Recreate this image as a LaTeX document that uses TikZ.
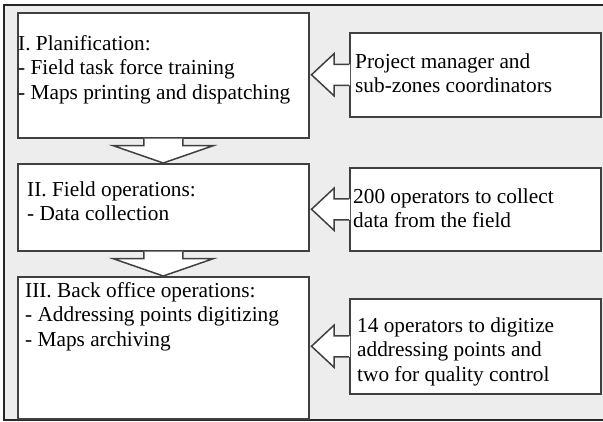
\documentclass[tikz,border=0pt]{standalone}
\usepackage{fontspec}
\setmainfont{Liberation Serif}
\usetikzlibrary{calc}
\definecolor{bggray}{RGB}{237,237,237}
\tikzstyle{stage}=[shape=rectangle,
                   draw=black!75,
                   fill=white,
                   line width=1.5pt,
                   anchor=north west,
                   inner sep=0pt,
                   minimum width=291pt]
\tikzstyle{who}=[shape=rectangle,
                 draw=black!75,
                 fill=white,
                 line width=1.5pt,
                 anchor=north west,
                 inner sep=0pt,
                 minimum width=251pt]
\tikzstyle{txt}=[anchor=base west,
                 inner sep=0pt,
                 align=left,
                 font=\fontsize{21.3}{24.5}\selectfont]
\tikzstyle{blk}=[draw=black!75,
                 fill=white,
                 line width=1.5pt,
                 line join=miter]

% block arrow from the bottom of one stage to the top of the next
\newcommand{\flowarrow}[2]{%
  \filldraw[blk] ($(#1.south)+(-19.5,0)$) -- ++(0,7) -- ++(-31,0)
    -- (#1.south |- #2.north) -- ($(#1.south)+(50.5,7)$) -- ++(-31,0)
    -- ++(0,-7);}
% block arrow from a side box to the stage on its left
\newcommand{\sidearrow}[2]{%
  \fill[white] ($(#1.west)+(1,-10.5)$) -- ++(-16,0) -- ++(0,-10.5)
    -- ($(#2.east |- #1.west)+(2,0)$) -- ($(#1.west)+(-15,21)$)
    -- ++(0,-10.5) -- ++(16,0) -- cycle;
  \draw[blk] ($(#1.west)+(0,-10.5)$) -- ++(-15,0) -- ++(0,-10.5)
    -- ($(#2.east |- #1.west)+(2,0)$) -- ($(#1.west)+(-15,21)$)
    -- ++(0,-10.5) -- ++(15,0);}

\begin{document}
\begin{tikzpicture}[x=1pt,y=-1pt]
\useasboundingbox (0,0) rectangle (603,421);

% frame
\fill[bggray] (4,5) rectangle (603,420);
\draw[black!85,line width=1.5pt] (603,5) -- (4,5) -- (4,420) -- (603,420);

% stages
\node[stage,minimum height=125pt] (plan)  at (17,12)  {};
\node[stage,minimum height=87pt]  (field) at (17,163) {};
\node[stage,minimum height=142pt] (back)  at (17,276) {};

% people
\node[who,minimum height=84pt] (mgr)  at (349,32)  {};
\node[who,minimum height=83pt] (ops)  at (349,167) {};
\node[who,minimum height=95pt] (digi) at (349,298) {};

% arrows
\flowarrow{plan}{field}
\flowarrow{field}{back}
\sidearrow{mgr}{plan}
\sidearrow{ops}{field}
\sidearrow{digi}{back}

% texts (anchored on the baseline of the last line)
\node[txt] (plantxt)  at ($(plan.north west)+(1,87)$)
  {I. Planification:\\- Field task force training\\- Maps printing and dispatching};
\node[txt] (fieldtxt) at ($(field.north west)+(10,57.5)$)
  {II. Field operations:\\- Data collection};
\node[txt] (backtxt)  at ($(back.north west)+(8,70)$)
  {III. Back office operations:\\- Addressing points digitizing\\- Maps archiving};
\node[txt] (mgrtxt)   at ($(mgr.north west)+(6,60.5)$)
  {Project manager and\\sub-zones coordinators};
\node[txt] (opstxt)   at ($(ops.north west)+(4,60.5)$)
  {200 operators to collect\\data from the field};
\node[txt] (digitxt)  at ($(digi.north west)+(8,83)$)
  {14 operators to digitize\\addressing points and\\two for quality control};

\end{tikzpicture}
\end{document}
